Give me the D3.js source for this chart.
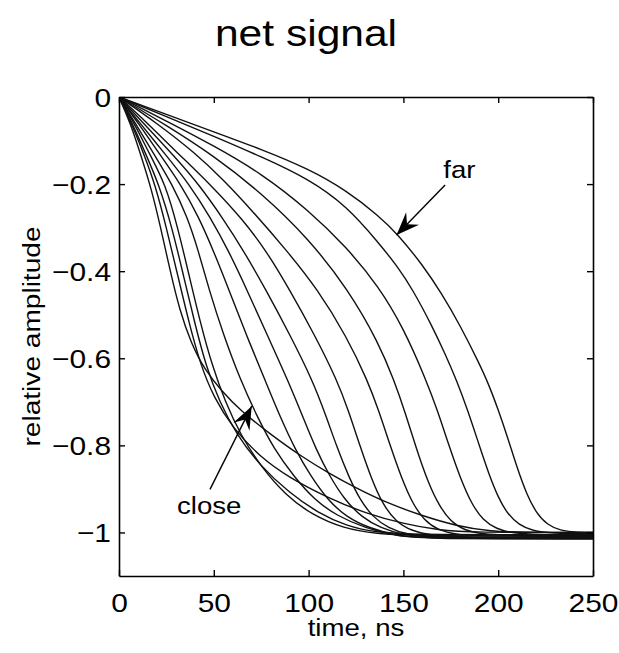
<!DOCTYPE html>
<html>
<head>
<meta charset="utf-8">
<script src="https://cdn.jsdelivr.net/npm/d3@7"></script>
<style>
  body { margin: 0; background: #fff; }
  text { font-family: "Liberation Sans", Arial, sans-serif; fill: #000; }
</style>
</head>
<body>
<svg id="drawing_region"></svg>
<script>
// curves, far (slow start, late drop) -> close (fast start, long tail); [time ns, amplitude]
const c01 = [[0,0],[25,-0.04],[50,-0.08],[75,-0.12],[100,-0.165],[120,-0.215],[137,-0.273],[147,-0.315],[160,-0.385],[170,-0.45],[180,-0.525],[190,-0.612],[195,-0.66],[200,-0.718],[205,-0.782],[210,-0.852],[215,-0.912],[220,-0.955],[226,-0.983],[233,-0.996],[242,-1.0],[250,-1.0]];
const c02 = [[0,0],[25,-0.045],[50,-0.09],[75,-0.137],[100,-0.188],[120,-0.25],[137,-0.335],[147,-0.39],[155,-0.443],[165,-0.525],[172,-0.59],[178,-0.65],[184,-0.72],[190,-0.80],[195,-0.865],[200,-0.92],[205,-0.958],[211,-0.983],[218,-0.996],[228,-1.002],[250,-1.003]];
const c03 = [[0,0],[25,-0.055],[50,-0.112],[75,-0.175],[100,-0.26],[120,-0.345],[137,-0.435],[150,-0.53],[162,-0.65],[168,-0.72],[174,-0.80],[180,-0.875],[186,-0.935],[192,-0.972],[199,-0.992],[208,-1.002],[220,-1.005],[250,-1.005]];
const c04 = [[0,0],[25,-0.065],[50,-0.135],[75,-0.22],[100,-0.325],[121,-0.443],[137,-0.565],[145,-0.65],[151,-0.725],[157,-0.81],[163,-0.885],[169,-0.94],[175,-0.975],[182,-0.995],[192,-1.004],[205,-1.007],[250,-1.007]];
const c05 = [[0,0],[20,-0.06],[40,-0.128],[55,-0.19],[70,-0.26],[88,-0.35],[105,-0.443],[120,-0.55],[131,-0.65],[137,-0.72],[143,-0.80],[149,-0.875],[155,-0.935],[161,-0.972],[168,-0.994],[178,-1.005],[192,-1.009],[250,-1.009]];
const c06 = [[0,0],[15,-0.06],[30,-0.125],[48,-0.2],[65,-0.28],[78,-0.355],[90,-0.443],[103,-0.545],[115,-0.65],[121,-0.72],[127,-0.80],[133,-0.875],[139,-0.935],[146,-0.975],[154,-0.996],[165,-1.007],[180,-1.011],[250,-1.011]];
const c07 = [[0,0],[15,-0.07],[30,-0.14],[42,-0.2],[55,-0.28],[66,-0.355],[77.5,-0.443],[90,-0.545],[102,-0.65],[109,-0.73],[115,-0.805],[121,-0.87],[127,-0.925],[134,-0.965],[142,-0.99],[152,-1.005],[166,-1.012],[250,-1.012]];
const c08 = [[0,0],[12,-0.065],[25,-0.135],[37,-0.2],[48,-0.275],[58,-0.355],[67.5,-0.443],[78,-0.545],[89,-0.65],[97,-0.735],[104,-0.81],[111,-0.87],[119,-0.925],[128,-0.965],[138,-0.99],[150,-1.006],[165,-1.013],[250,-1.013]];
const c09 = [[0,0],[11,-0.065],[22,-0.135],[32.5,-0.2],[42,-0.275],[50,-0.355],[58,-0.443],[67,-0.545],[77,-0.65],[85,-0.735],[93,-0.81],[101,-0.87],[110,-0.925],[120,-0.965],[132,-0.99],[146,-1.007],[162,-1.014],[250,-1.014]];
const c10 = [[0,0],[10,-0.07],[19,-0.135],[28,-0.2],[36,-0.275],[42,-0.355],[47.5,-0.443],[55,-0.545],[64,-0.65],[73,-0.735],[82,-0.81],[92,-0.87],[103,-0.925],[115,-0.962],[130,-0.99],[146,-1.008],[162,-1.015],[250,-1.015]];
const c11 = [[0,0],[8,-0.06],[16,-0.13],[24.5,-0.2],[31,-0.3],[37,-0.41],[43,-0.52],[49,-0.615],[56,-0.7],[64,-0.775],[75,-0.85],[88,-0.915],[102,-0.96],[118,-0.99],[135,-1.003],[160,-1.008],[250,-1.008]];
const c12 = [[0,0],[7,-0.06],[14,-0.13],[21,-0.2],[28,-0.3],[34,-0.41],[40,-0.52],[46,-0.62],[53,-0.7],[62,-0.775],[74,-0.845],[90,-0.91],[105,-0.955],[120,-0.985],[135,-1.0],[160,-1.006],[250,-1.005]];
const c13 = [[0,0],[7,-0.065],[13,-0.13],[19,-0.2],[25,-0.3],[31,-0.41],[37,-0.52],[43,-0.615],[50,-0.69],[60,-0.76],[74,-0.825],[90,-0.875],[111,-0.922],[130,-0.956],[150,-0.98],[169,-0.995],[185,-1.0],[250,-1.0]];
const c14 = [[0,0],[6,-0.06],[12,-0.14],[17,-0.21],[22,-0.3],[27,-0.4],[32,-0.49],[38,-0.565],[45,-0.625],[54,-0.675],[64,-0.72],[80,-0.775],[96,-0.825],[111,-0.865],[125,-0.898],[140,-0.93],[160,-0.962],[178,-0.985],[196,-0.998],[215,-1.0],[250,-1.0]];
const curves = [c01, c02, c03, c04, c05, c06, c07, c08, c09, c10, c11, c12, c13, c14];

const xTicks = [0, 50, 100, 150, 200, 250];
const yTicks = [0, -0.2, -0.4, -0.6, -0.8, -1];

// annotations in data units: text anchor, arrow tail, arrow tip
const notes = [
  { label: "far", at: [171, -0.186], tail: [172, -0.202], tip: [146.4, -0.317] },
  { label: "close", at: [30.6, -0.957], tail: [48, -0.901], tip: [70, -0.710] }
];

const W = 619, H = 653;
const margin = { left: 119, right: 26, top: 97, bottom: 77 };

const svg = d3.select('#drawing_region')
  .attr('width', W)
  .attr('height', H);

const x = d3.scaleLinear().domain([0, 250]).range([margin.left, W - margin.right]);
const y = d3.scaleLinear().domain([-1.1, 0]).range([H - margin.bottom, margin.top]);

const fmt = d => d === 0 ? "0" : d3.format(".1~f")(d).replace("-", "\u2212");

svg.append('clipPath').attr('id', 'plotclip')
  .append('rect')
  .attr('x', x(0)).attr('y', y(0))
  .attr('width', x(250) - x(0)).attr('height', y(-1.1) - y(0));

const line = d3.line()
  .x(d => x(d[0]))
  .y(d => y(d[1]))
  .curve(d3.curveBasis);

svg.append('g')
  .attr('clip-path', 'url(#plotclip)')
  .selectAll('path')
  .data(curves)
  .enter()
  .append('path')
  .attr('d', line)
  .attr('fill', 'none')
  .attr('stroke', '#111')
  .attr('stroke-width', 1.4);

// axes, ticks pointing inward on all four sides
const gx = svg.append('g')
  .attr('transform', `translate(0,${y(-1.1)})`)
  .call(d3.axisBottom(x).tickValues(xTicks).tickSizeInner(-6).tickSizeOuter(0).tickFormat(fmt));
const gy = svg.append('g')
  .attr('transform', `translate(${x(0)},0)`)
  .call(d3.axisLeft(y).tickValues(yTicks).tickSizeInner(-6).tickSizeOuter(0).tickFormat(fmt));
svg.append('g')
  .attr('transform', `translate(0,${y(0)})`)
  .call(d3.axisTop(x).tickValues(xTicks).tickSizeInner(-6).tickSizeOuter(0).tickFormat(''));
svg.append('g')
  .attr('transform', `translate(${x(250)},0)`)
  .call(d3.axisRight(y).tickValues(yTicks).tickSizeInner(-6).tickSizeOuter(0).tickFormat(''));

svg.selectAll('.domain').attr('stroke', '#000').attr('stroke-width', 1.6);
svg.selectAll('.tick line').attr('stroke', '#000').attr('stroke-width', 1.4);

gx.selectAll('.tick text')
  .attr('y', null).attr('dy', null)
  .attr('transform', 'translate(0,36) scale(1.15,1)')
  .style('font-size', '26px')
  .attr('font-family', null);
gy.selectAll('.tick text')
  .attr('x', null).attr('dy', '0.35em')
  .attr('transform', 'translate(-8,0) scale(1.15,1)')
  .style('font-size', '26px')
  .attr('font-family', null);

// title and axis labels
svg.append('text')
  .attr('transform', 'translate(306,46) scale(1.15,1)')
  .attr('text-anchor', 'middle')
  .style('font-size', '37px')
  .text('net signal');

svg.append('text')
  .attr('transform', `translate(${(x(0) + x(250)) / 2},636) scale(1.15,1)`)
  .attr('text-anchor', 'middle')
  .style('font-size', '24px')
  .text('time, ns');

svg.append('text')
  .attr('transform', `translate(40,${(y(0) + y(-1.1)) / 2}) rotate(-90) scale(1.17,1)`)
  .attr('text-anchor', 'middle')
  .style('font-size', '24px')
  .text('relative amplitude');

// annotation arrows
const arrowHead = (tail, tip, len, half, notch) => {
  const x0 = x(tip[0]), y0 = y(tip[1]);
  const dx = x(tail[0]) - x0, dy = y(tail[1]) - y0;
  const n = Math.hypot(dx, dy), ux = dx / n, uy = dy / n;
  const px = -uy, py = ux;
  return `M${x0},${y0}L${x0 + ux * len + px * half},${y0 + uy * len + py * half}`
    + `L${x0 + ux * notch},${y0 + uy * notch}`
    + `L${x0 + ux * len - px * half},${y0 + uy * len - py * half}Z`;
};

const ann = svg.append('g');
ann.selectAll('line')
  .data(notes)
  .enter()
  .append('line')
  .attr('x1', d => x(d.tail[0])).attr('y1', d => y(d.tail[1]))
  .attr('x2', d => x(d.tip[0])).attr('y2', d => y(d.tip[1]))
  .attr('stroke', '#000')
  .attr('stroke-width', 1.4);
ann.selectAll('path')
  .data(notes)
  .enter()
  .append('path')
  .attr('d', d => arrowHead(d.tail, d.tip, 23, 9, 15))
  .attr('fill', '#000');
ann.selectAll('text')
  .data(notes)
  .enter()
  .append('text')
  .attr('transform', d => `translate(${x(d.at[0])},${y(d.at[1])}) scale(1.15,1)`)
  .style('font-size', '24px')
  .text(d => d.label);
</script>
</body>
</html>
